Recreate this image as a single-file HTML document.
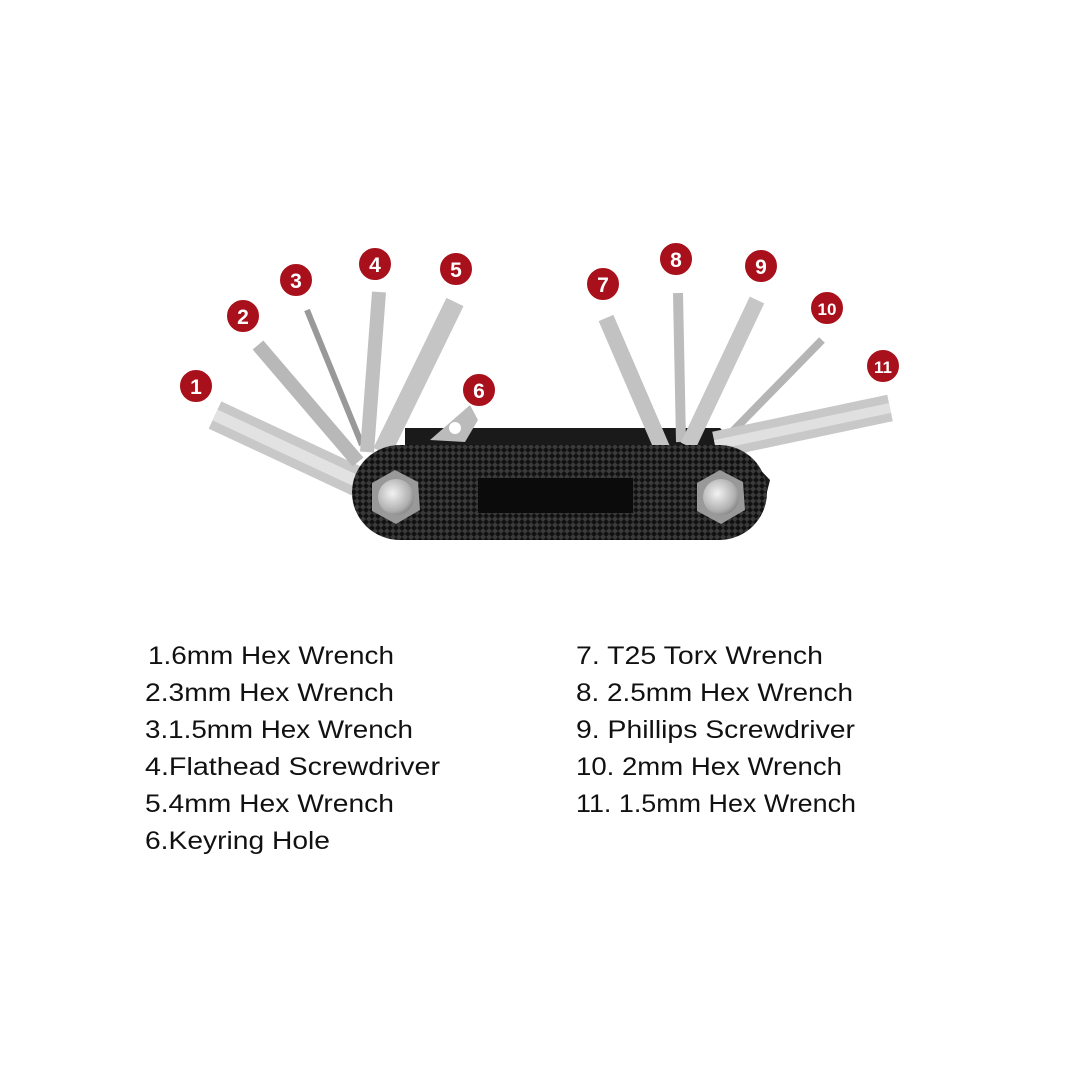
<!DOCTYPE html>
<html><head><meta charset="utf-8"><style>
html,body{margin:0;padding:0;background:#fff;}
svg{display:block}
text{font-family:"Liberation Sans",sans-serif;}
</style></head><body>
<svg width="1080" height="1080" viewBox="0 0 1080 1080" xmlns="http://www.w3.org/2000/svg">
<defs>
<linearGradient id="steel" x1="0" y1="0" x2="1" y2="0">
<stop offset="0" stop-color="#8c8c8c"/><stop offset="0.35" stop-color="#e8e8e8"/><stop offset="0.7" stop-color="#b5b5b5"/><stop offset="1" stop-color="#7a7a7a"/>
</linearGradient>
<pattern id="knurl" width="6" height="6" patternUnits="userSpaceOnUse">
<rect width="6" height="6" fill="#111"/><path d="M0 3L3 0L6 3L3 6Z" fill="#3a3a3a"/>
</pattern>
<radialGradient id="nut" cx="0.4" cy="0.4" r="0.7"><stop offset="0" stop-color="#f2f2f2"/><stop offset="0.7" stop-color="#b0b0b0"/><stop offset="1" stop-color="#777"/></radialGradient>
</defs>
<g stroke-linecap="butt">
<!-- back plate -->
<path d="M405 428 L720 428 L770 480 L765 500 L405 460Z" fill="#1a1a1a"/>
<path d="M430 440 L470 405 L478 420 L465 442Z" fill="#bbb"/>
<circle cx="455" cy="428" r="6" fill="#fff"/>
<!-- tools left -->
<line x1="215" y1="415" x2="365" y2="485" stroke="#c8c8c8" stroke-width="30"/>
<line x1="215" y1="415" x2="365" y2="485" stroke="#e2e2e2" stroke-width="12"/>
<line x1="258" y1="345" x2="358" y2="462" stroke="#b8b8b8" stroke-width="14"/>
<line x1="307" y1="310" x2="362" y2="445" stroke="#999" stroke-width="6"/>
<line x1="379" y1="292" x2="367" y2="452" stroke="#c0c0c0" stroke-width="14"/>
<line x1="455" y1="302" x2="382" y2="452" stroke="#c5c5c5" stroke-width="19"/>
<!-- tools right -->
<line x1="606" y1="318" x2="662" y2="448" stroke="#c2c2c2" stroke-width="16"/>
<line x1="678" y1="293" x2="681" y2="442" stroke="#bcbcbc" stroke-width="10"/>
<line x1="757" y1="300" x2="688" y2="446" stroke="#c6c6c6" stroke-width="16"/>
<line x1="822" y1="340" x2="732" y2="432" stroke="#b5b5b5" stroke-width="8"/>
<line x1="890" y1="408" x2="715" y2="445" stroke="#c8c8c8" stroke-width="27"/>
<line x1="890" y1="408" x2="715" y2="445" stroke="#e0e0e0" stroke-width="10"/>
<!-- body -->
<rect x="352" y="445" width="415" height="95" rx="48" fill="url(#knurl)"/>
<rect x="478" y="478" width="155" height="35" fill="#0b0b0b"/>
<polygon points="395,470 418,482 420,510 396,524 372,511 372,483" fill="#999"/>
<circle cx="396" cy="497" r="18" fill="url(#nut)"/>
<polygon points="720,470 743,482 745,510 721,524 697,511 697,483" fill="#999"/>
<circle cx="721" cy="497" r="18" fill="url(#nut)"/>
</g>
<g fill="#a8101c" stroke="#fff" stroke-width="2">
<circle cx="196" cy="386" r="17"/><circle cx="243" cy="316" r="17"/><circle cx="296" cy="280" r="17"/>
<circle cx="375" cy="264" r="17"/><circle cx="456" cy="269" r="17"/><circle cx="479" cy="390" r="17"/>
<circle cx="603" cy="284" r="17"/><circle cx="676" cy="259" r="17"/><circle cx="761" cy="266" r="17"/>
<circle cx="827" cy="308" r="17"/><circle cx="883" cy="366" r="17"/>
</g>
<g fill="#fff" font-weight="bold" font-size="21" text-anchor="middle">
<text x="196" y="394">1</text><text x="243" y="324">2</text><text x="296" y="288">3</text>
<text x="375" y="272">4</text><text x="456" y="277">5</text><text x="479" y="398">6</text>
<text x="603" y="292">7</text><text x="676" y="267">8</text><text x="761" y="274">9</text>
<text x="827" y="315" font-size="17">10</text><text x="883" y="373" font-size="17">11</text>
</g>
<g fill="#111" font-size="25">
<text x="148" y="664" textLength="246" lengthAdjust="spacingAndGlyphs">1.6mm Hex Wrench</text>
<text x="145" y="701" textLength="249" lengthAdjust="spacingAndGlyphs">2.3mm Hex Wrench</text>
<text x="145" y="738" textLength="268" lengthAdjust="spacingAndGlyphs">3.1.5mm Hex Wrench</text>
<text x="145" y="775" textLength="295" lengthAdjust="spacingAndGlyphs">4.Flathead Screwdriver</text>
<text x="145" y="812" textLength="249" lengthAdjust="spacingAndGlyphs">5.4mm Hex Wrench</text>
<text x="145" y="849" textLength="185" lengthAdjust="spacingAndGlyphs">6.Keyring Hole</text>
<text x="576" y="664" textLength="247" lengthAdjust="spacingAndGlyphs">7. T25 Torx Wrench</text>
<text x="576" y="701" textLength="277" lengthAdjust="spacingAndGlyphs">8. 2.5mm Hex Wrench</text>
<text x="576" y="738" textLength="279" lengthAdjust="spacingAndGlyphs">9. Phillips Screwdriver</text>
<text x="576" y="775" textLength="266" lengthAdjust="spacingAndGlyphs">10. 2mm Hex Wrench</text>
<text x="576" y="812" textLength="280" lengthAdjust="spacingAndGlyphs">11. 1.5mm Hex Wrench</text>
</g>
</svg>
</body></html>
